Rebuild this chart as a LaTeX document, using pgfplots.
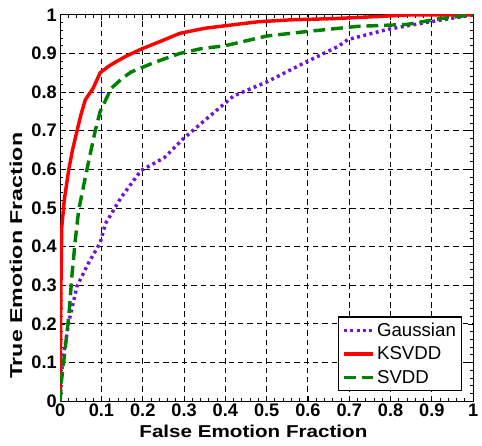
\documentclass[border=0pt]{standalone}
\usepackage{fontspec}
\setmainfont{Liberation Sans}
\usepackage{graphicx}
\usepackage{pgfplots}
\pgfplotsset{compat=1.18}
\definecolor{gpurple}{RGB}{110,20,215}
\definecolor{kred}{RGB}{255,0,0}
\definecolor{sgreen}{RGB}{0,128,0}

\begin{document}
\begin{tikzpicture}
\begin{axis}[
    scale only axis,
    width=419bp, height=392bp,
    xmin=0, xmax=1, ymin=0, ymax=1,
    xtick={0,0.1,...,1}, ytick={0,0.1,...,1},
    minor tick num=4,
    tick align=inside,
    major tick length=5bp, minor tick length=3bp,
    tick style={black, line width=0.8bp},
    axis line style={black, line width=1.2bp},
    grid=major,
    major grid style={black, line width=0.9bp, dash pattern=on 5.5bp off 4bp},
    /pgf/number format/assume math mode=true,
    ticklabel style={font=\bfseries\fontsize{18.5}{18.5}\selectfont},
    xticklabel style={yshift=1bp},
    xlabel={\scalebox{1.2}[1]{\bfseries False Emotion Fraction}},
    ylabel={\scalebox{1.35}[1]{\bfseries True Emotion Fraction}},
    label style={font=\fontsize{17.5}{17.5}\selectfont},
    xlabel style={at={(axis description cs:0.468,-0.077)}, anchor=center},
    ylabel style={at={(axis description cs:-0.107,0.376)}, anchor=center},
    legend style={at={(rel axis cs:0.974,0.026)}, anchor=south east,
        draw=black, line width=1.2bp, fill=white,
        font=\fontsize{19}{19}\selectfont,
        inner xsep=4bp, inner ysep=4bp, row sep=5bp},
    legend cell align=left,
    legend image code/.code={\draw[#1] (0bp,0bp) -- (30bp,0bp);},
]
\addplot[gpurple, line width=3.5bp, dash pattern=on 3bp off 3.5bp] coordinates {
    (0,0) (0.003,0.07) (0.0095,0.128) (0.021,0.205) (0.041,0.298) (0.069,0.358)
    (0.097,0.41) (0.11,0.46) (0.148,0.528) (0.196,0.597) (0.252,0.63) (0.3,0.681)
    (0.356,0.732) (0.42,0.79) (0.5,0.826) (0.594,0.877) (0.673,0.918) (0.697,0.936)
    (0.792,0.962) (0.88,0.979) (1,1)
};
\addlegendentry{Gaussian}

\addplot[kred, line width=3.5bp] coordinates {
    (0,0) (0.002,0.3) (0.004,0.45) (0.01,0.52) (0.021,0.6) (0.03,0.65) (0.041,0.7)
    (0.05,0.74) (0.061,0.78) (0.08,0.81) (0.097,0.85) (0.115,0.865) (0.133,0.877)
    (0.16,0.893) (0.196,0.911) (0.24,0.93) (0.29,0.952) (0.35,0.965) (0.41,0.973)
    (0.48,0.982) (0.56,0.987) (0.66,0.99) (0.78,0.996) (0.85,1.0) (1,1)
};
\addlegendentry{KSVDD}

\addplot[sgreen, line width=3.5bp, dash pattern=on 12bp off 6bp] coordinates {
    (0,0) (0.003,0.05) (0.0095,0.11) (0.021,0.22) (0.029,0.33) (0.037,0.42)
    (0.045,0.495) (0.065,0.6) (0.085,0.7) (0.097,0.75) (0.124,0.81) (0.15,0.835)
    (0.172,0.852) (0.229,0.877) (0.29,0.9) (0.34,0.912) (0.4,0.92) (0.5,0.945)
    (0.6,0.957) (0.72,0.97) (0.84,0.975) (0.92,0.99) (1,1)
};
\addlegendentry{SVDD}

\addplot[only marks, mark=+, blue, mark size=4bp, forget plot] coordinates {(0.1,0.8)};
\end{axis}
\pgfresetboundingbox
\useasboundingbox (-61bp,-45bp) rectangle (428bp,407bp);
\end{tikzpicture}
\end{document}
